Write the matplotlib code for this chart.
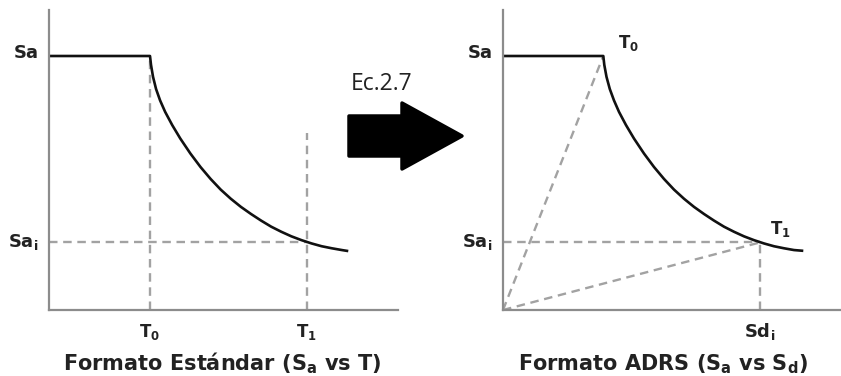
import matplotlib.pyplot as plt
from matplotlib.patches import FancyArrow

plt.rcParams['font.family'] = ['DejaVu Sans']
plt.rcParams['mathtext.fontset'] = 'dejavusans'

# espectro en formato estandar (Sa vs T), normalizado a T0 = 1 y Sa = 1
periodo = [0.0, 1.0, 1.01, 1.03, 1.06, 1.10, 1.15, 1.22, 1.30, 1.40, 1.50,
           1.60, 1.70, 1.80, 1.90, 2.00, 2.10, 2.20, 2.30, 2.40, 2.50,
           2.60, 2.70, 2.80, 2.90, 2.963]
sa_t = [1.0, 1.0, 0.965, 0.918, 0.870, 0.825, 0.780, 0.728, 0.675, 0.616, 0.563,
        0.516, 0.474, 0.438, 0.406, 0.378, 0.352, 0.328, 0.308, 0.290, 0.275,
        0.262, 0.251, 0.243, 0.236, 0.232]

# mismo espectro en formato ADRS (Sa vs Sd)
sd = [0.0, 1.003, 1.013, 1.035, 1.068, 1.11, 1.16, 1.23, 1.31, 1.41, 1.51,
      1.61, 1.71, 1.81, 1.91, 2.01, 2.11, 2.21, 2.31, 2.41, 2.51,
      2.61, 2.71, 2.81, 2.91, 3.003]
sa_d = [1.0, 1.0, 0.965, 0.918, 0.870, 0.825, 0.780, 0.728, 0.675, 0.616, 0.563,
        0.516, 0.474, 0.438, 0.406, 0.378, 0.352, 0.328, 0.308, 0.290, 0.275,
        0.262, 0.251, 0.243, 0.236, 0.233]

T0 = 1.0
T1 = 2.55
Sa_i = 0.266
Sd_i = 2.57

gris = '#a2a2a2'
eje = '#8c8c8c'
tinta = '#222222'
dash_kw = dict(color=gris, lw=1.7, dashes=(3.6, 2.4))
lbl = dict(fontweight='bold', color=tinta)

fig = plt.figure(figsize=(8.41, 3.76), dpi=100)

ax1 = fig.add_axes([49/841, 66/376, 349/841, 300/376])
ax2 = fig.add_axes([503/841, 66/376, 338/841, 300/376])

for ax, xmax in ((ax1, 349/101), (ax2, 338/100)):
    ax.set_xlim(0, xmax)
    ax.set_ylim(0, 300/254)
    for s in ('top', 'right'):
        ax.spines[s].set_visible(False)
    for s in ('left', 'bottom'):
        ax.spines[s].set_color(eje)
        ax.spines[s].set_linewidth(1.6)
    ax.set_xticks([])
    ax.set_yticks([])
    ax.patch.set_alpha(0)

# ---- formato estandar
ax1.plot([T0, T0], [0, 1.0], **dash_kw)
ax1.plot([T1, T1], [0, 0.697], **dash_kw)
ax1.plot([0, T1], [Sa_i, Sa_i], **dash_kw)
ax1.plot(periodo, sa_t, color='#111111', lw=1.9, solid_capstyle='butt',
         solid_joinstyle='round')

ax1.text(-0.1, 1.01, 'Sa', ha='right', va='center', fontsize=13, **lbl)
ax1.text(-0.1, Sa_i, r'Sa$_\mathbf{i}$', ha='right', va='center', fontsize=13, **lbl)
ax1.text(T0, -0.106, r'T$_\mathbf{0}$', ha='center', va='baseline', fontsize=12, **lbl)
ax1.text(T1, -0.106, r'T$_\mathbf{1}$', ha='center', va='baseline', fontsize=12, **lbl)
ax1.text(1.71, -0.236, r'Formato Estándar (S$_\mathbf{a}$ vs T)', ha='center',
         va='baseline', fontsize=15, **lbl)

# ---- formato ADRS
ax2.plot([0, sd[1]], [0, 1.0], **dash_kw)
ax2.plot([0, Sd_i], [0, Sa_i], **dash_kw)
ax2.plot([0, Sd_i], [Sa_i, Sa_i], **dash_kw)
ax2.plot([Sd_i, Sd_i], [0, Sa_i], **dash_kw)
ax2.plot(sd, sa_d, color='#111111', lw=1.9, solid_capstyle='butt',
         solid_joinstyle='round')

ax2.text(-0.1, 1.01, 'Sa', ha='right', va='center', fontsize=13, **lbl)
ax2.text(-0.1, Sa_i, r'Sa$_\mathbf{i}$', ha='right', va='center', fontsize=13, **lbl)
ax2.text(1.15, 1.051, r'T$_\mathbf{0}$', ha='left', va='center', fontsize=12, **lbl)
ax2.text(2.67, 0.319, r'T$_\mathbf{1}$', ha='left', va='center', fontsize=12, **lbl)
ax2.text(Sd_i, -0.106, r'Sd$_\mathbf{i}$', ha='center', va='baseline', fontsize=13, **lbl)
ax2.text(1.6, -0.236, r'Formato ADRS (S$_\mathbf{a}$ vs S$_\mathbf{d}$)', ha='center',
         va='baseline', fontsize=15, **lbl)

# ---- flecha entre formatos
ax0 = fig.add_axes([0, 0, 1, 1], zorder=-1)
ax0.set_xlim(0, 841)
ax0.set_ylim(376, 0)
ax0.axis('off')
flecha = FancyArrow(349, 136, 113, 0, width=40, head_width=66, head_length=60,
                    length_includes_head=True, color='black', joinstyle='round',
                    lw=2.5)
ax0.add_patch(flecha)
ax0.text(351, 84, 'Ec.2.7', ha='left', va='center', fontsize=16.5, color=tinta,
         family=['Open Sans', 'DejaVu Sans'])

fig.savefig('out.png', dpi=100)
